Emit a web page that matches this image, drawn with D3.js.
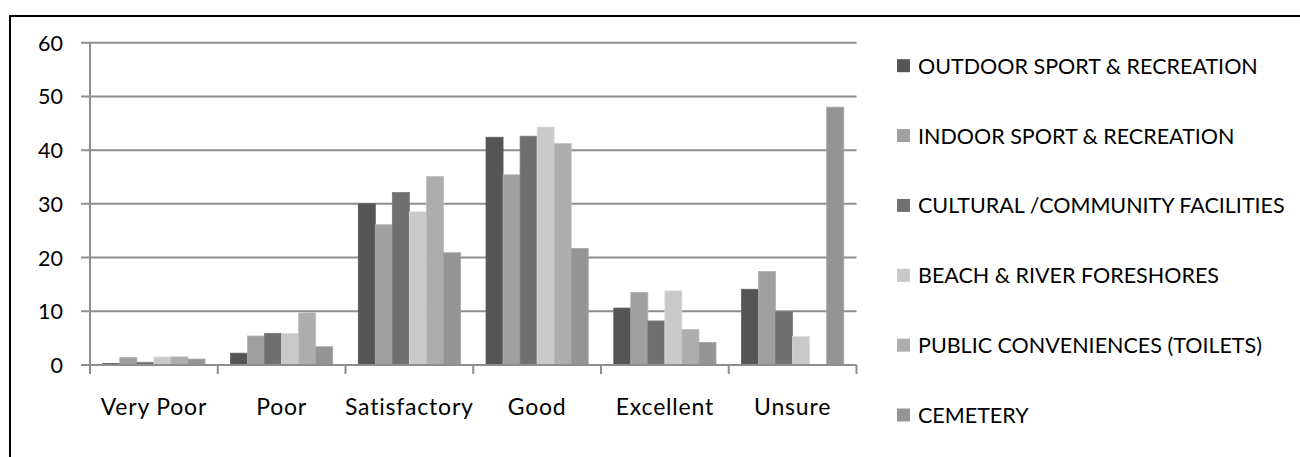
<!DOCTYPE html>
<html>
<head>
<meta charset="utf-8">
<script src="https://cdn.jsdelivr.net/npm/d3@7"></script>
<style>
  html, body { margin: 0; padding: 0; background: #fff; }
  svg { display: block; }
  text { font-family: Lato, "Open Sans", sans-serif; fill: #000; }
</style>
</head>
<body>
<svg id="chart" width="1300" height="457"></svg>
<script>
const categories = ["Very Poor", "Poor", "Satisfactory", "Good", "Excellent", "Unsure"];
const seriesNames = [
  "OUTDOOR SPORT & RECREATION",
  "INDOOR SPORT & RECREATION",
  "CULTURAL /COMMUNITY FACILITIES",
  "BEACH & RIVER FORESHORES",
  "PUBLIC CONVENIENCES (TOILETS)",
  "CEMETERY"
];
const outdoor   = [0.3, 2.2, 30.0, 42.4, 10.6, 14.1];
const indoor    = [1.4, 5.4, 26.1, 35.4, 13.5, 17.4];
const cultural  = [0.5, 5.9, 32.1, 42.6, 8.2, 9.9];
const beach     = [1.5, 5.9, 28.5, 44.3, 13.8, 5.3];
const toilets   = [1.5, 9.7, 35.1, 41.2, 6.6, 0];
const cemetery  = [1.1, 3.4, 20.9, 21.7, 4.2, 48.0];
const seriesValues = [outdoor, indoor, cultural, beach, toilets, cemetery];
const seriesColors = ["#555555", "#a0a0a0", "#707070", "#c9c9c9", "#adadad", "#959595"];
const yTicks = [0, 10, 20, 30, 40, 50, 60];

const svg = d3.select("#chart");
const fontSize = 21.5;
const gridColor = "#8e8e8e";

// outer frame
svg.append("rect")
  .attr("x", 10).attr("y", 16)
  .attr("width", 1400).attr("height", 600)
  .attr("fill", "none").attr("stroke", "#000").attr("stroke-width", 2);

const plot = { left: 90, right: 856.5, top: 42.7, bottom: 365 };

const x0 = d3.scaleBand().domain(categories).range([plot.left, plot.right]).paddingInner(0).paddingOuter(0);
const x1 = d3.scaleBand().domain(d3.range(seriesNames.length)).range([0, x0.bandwidth()]).paddingInner(0).paddingOuter(0.75);
const y = d3.scaleLinear().domain([0, 60]).range([plot.bottom, plot.top]);

// gridlines
svg.append("g").selectAll("line").data(yTicks).join("line")
  .attr("x1", plot.left - 9).attr("x2", plot.right)
  .attr("y1", d => y(d)).attr("y2", d => y(d))
  .attr("stroke", gridColor).attr("stroke-width", 2);

// y axis line
svg.append("line")
  .attr("x1", plot.left).attr("x2", plot.left)
  .attr("y1", plot.top).attr("y2", plot.bottom)
  .attr("stroke", gridColor).attr("stroke-width", 2);

// y labels
svg.append("g").selectAll("text").data(yTicks).join("text")
  .attr("x", 63).attr("y", d => y(d))
  .attr("text-anchor", "end").attr("dominant-baseline", "central")
  .attr("font-size", fontSize)
  .text(d => d);

// bars
const groups = svg.append("g").selectAll("g").data(categories).join("g")
  .attr("transform", c => `translate(${x0(c)},0)`);
groups.selectAll("rect")
  .data((c, ci) => seriesValues.map((vals, si) => ({ si, v: vals[ci] })))
  .join("rect")
  .attr("x", d => x1(d.si))
  .attr("width", x1.bandwidth())
  .attr("y", d => y(d.v))
  .attr("height", d => y(0) - y(d.v))
  .attr("fill", d => seriesColors[d.si])
  .attr("stroke", d => d.v > 0 ? d3.color(seriesColors[d.si]).brighter(0.25) : "none")
  .attr("stroke-width", 0.8);

// x axis baseline and ticks
svg.append("line")
  .attr("x1", plot.left).attr("x2", plot.right)
  .attr("y1", y(0)).attr("y2", y(0))
  .attr("stroke", gridColor).attr("stroke-width", 2);
const tickPositions = categories.map(c => x0(c)).concat([x0(categories[categories.length - 1]) + x0.bandwidth()]);
svg.append("g").selectAll("line").data(tickPositions).join("line")
  .attr("x1", d => d).attr("x2", d => d)
  .attr("y1", y(0)).attr("y2", y(0) + 9)
  .attr("stroke", gridColor).attr("stroke-width", 2);

// x labels
svg.append("g").selectAll("text").data(categories).join("text")
  .attr("x", c => x0(c) + x0.bandwidth() / 2)
  .attr("y", 415)
  .attr("text-anchor", "middle")
  .attr("font-size", 23)
  .attr("letter-spacing", 0.8)
  .text(c => c);

// legend
const legendY = d3.scalePoint().domain(d3.range(seriesNames.length)).range([65.7, 415]);
const legend = svg.append("g").selectAll("g").data(seriesNames).join("g")
  .attr("transform", (d, i) => `translate(897,${legendY(i)})`);
legend.append("rect")
  .attr("x", 0).attr("y", -6.5).attr("width", 13).attr("height", 13)
  .attr("fill", (d, i) => seriesColors[i]);
legend.append("text")
  .attr("x", 21).attr("y", 0)
  .attr("dominant-baseline", "central")
  .attr("font-size", fontSize)
  .text(d => d);
</script>
</body>
</html>
